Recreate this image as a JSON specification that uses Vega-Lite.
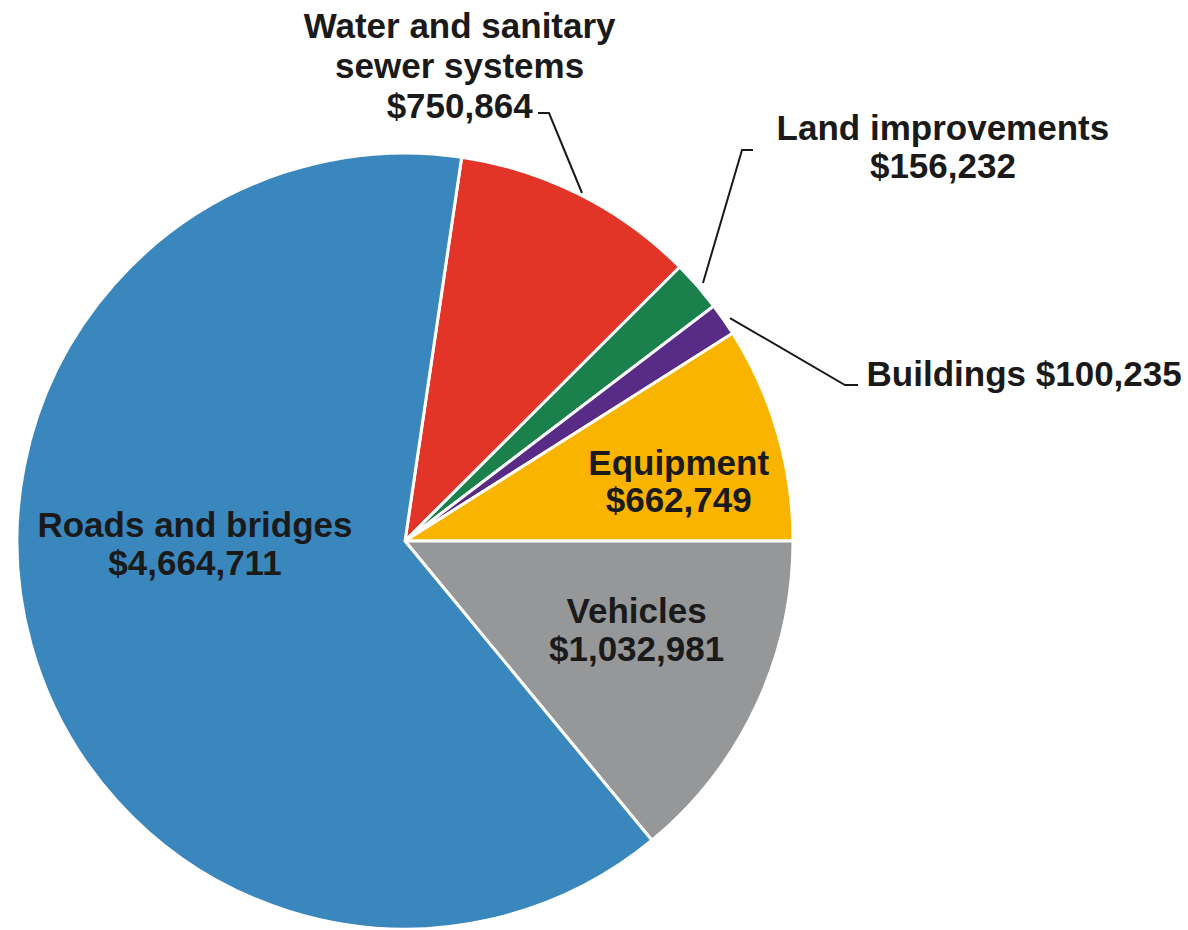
{
  "$schema": "https://vega.github.io/schema/vega-lite/v6.json",
  "width": 776,
  "height": 776,
  "autosize": "none",
  "padding": {"left": 17, "top": 153, "right": 395, "bottom": 1},
  "background": "white",
  "config": {"view": {"stroke": null}, "font": "Liberation Sans"},
  "datasets": {
    "slices": [
      {"category": "Water and sanitary sewer systems", "label": "Water and sanitary|sewer systems|", "value": 750864},
      {"category": "Land improvements", "label": "Land improvements|", "value": 156232},
      {"category": "Buildings", "label": "Buildings ", "value": 100235},
      {"category": "Equipment", "label": "Equipment|", "value": 662749},
      {"category": "Vehicles", "label": "Vehicles|", "value": 1032981},
      {"category": "Roads and bridges", "label": "Roads and bridges|", "value": 4664711}
    ],
    "leaders": [
      {"seg": "Water", "k": 0, "u": 0.3428, "v": 1.1031},
      {"seg": "Water", "k": 1, "u": 0.3711, "v": 1.1031},
      {"seg": "Water", "k": 2, "u": 0.4562, "v": 0.8969},
      {"seg": "Land", "k": 0, "u": 0.8969, "v": 1.0077},
      {"seg": "Land", "k": 1, "u": 0.8686, "v": 1.0077},
      {"seg": "Land", "k": 2, "u": 0.768, "v": 0.665},
      {"seg": "Buildings", "k": 0, "u": 0.8376, "v": 0.5747},
      {"seg": "Buildings", "k": 1, "u": 1.134, "v": 0.402},
      {"seg": "Buildings", "k": 2, "u": 1.1675, "v": 0.402}
    ]
  },
  "layer": [
    {
      "data": {"name": "slices"},
      "transform": [{"window": [{"op": "row_number", "as": "idx"}]}],
      "mark": {"type": "arc", "stroke": "white", "strokeWidth": 3},
      "encoding": {
        "theta": {"field": "value", "type": "quantitative", "stack": true, "scale": {"range": [0.14657, 6.42976]}},
        "order": {"field": "idx", "type": "quantitative"},
        "color": {
          "field": "category", "type": "nominal", "legend": null,
          "scale": {
            "domain": ["Water and sanitary sewer systems", "Land improvements", "Buildings", "Equipment", "Vehicles", "Roads and bridges"],
            "range": ["#e33428", "#1a804c", "#582c86", "#f9b400", "#969799", "#3a87be"]
          }
        }
      }
    },
    {
      "data": {"name": "leaders"},
      "mark": {"type": "line", "color": "#1a1a1a", "strokeWidth": 2},
      "encoding": {
        "x": {"field": "u", "type": "quantitative", "scale": {"domain": [-1, 1], "nice": false, "zero": false}, "axis": null},
        "y": {"field": "v", "type": "quantitative", "scale": {"domain": [-1, 1], "nice": false, "zero": false}, "axis": null},
        "detail": {"field": "seg"},
        "order": {"field": "k", "type": "quantitative"}
      }
    },
    {
      "data": {"name": "slices"},
      "transform": [{"window": [{"op": "row_number", "as": "idx"}]}, {"calculate": "datum.label + '$' + format(datum.value, ',')", "as": "txt"}],
      "mark": {"type": "text", "radius": 218, "dy": -73, "fontSize": 35, "fontWeight": "bold", "color": "#1a1a1a", "lineBreak": "|", "lineHeight": 38, "align": "center", "baseline": "middle"},
      "encoding": {
        "theta": {"field": "value", "type": "quantitative", "stack": true},
        "order": {"field": "idx", "type": "quantitative"},
        "text": {"condition": {"test": "datum.category === 'Roads and bridges'", "field": "txt"}, "value": ""}
      }
    },
    {
      "data": {"name": "slices"},
      "transform": [{"window": [{"op": "row_number", "as": "idx"}]}, {"calculate": "datum.label + '$' + format(datum.value, ',')", "as": "txt"}],
      "mark": {"type": "text", "radius": 285, "dy": 2, "fontSize": 35, "fontWeight": "bold", "color": "#1a1a1a", "lineBreak": "|", "lineHeight": 37, "align": "center", "baseline": "middle"},
      "encoding": {
        "theta": {"field": "value", "type": "quantitative", "stack": true},
        "order": {"field": "idx", "type": "quantitative"},
        "text": {"condition": {"test": "datum.category === 'Equipment'", "field": "txt"}, "value": ""}
      }
    },
    {
      "data": {"name": "slices"},
      "transform": [{"window": [{"op": "row_number", "as": "idx"}]}, {"calculate": "datum.label + '$' + format(datum.value, ',')", "as": "txt"}],
      "mark": {"type": "text", "radius": 256, "dy": -38, "fontSize": 35, "fontWeight": "bold", "color": "#1a1a1a", "lineBreak": "|", "lineHeight": 38, "align": "center", "baseline": "middle"},
      "encoding": {
        "theta": {"field": "value", "type": "quantitative", "stack": true},
        "order": {"field": "idx", "type": "quantitative"},
        "text": {"condition": {"test": "datum.category === 'Vehicles'", "field": "txt"}, "value": ""}
      }
    },
    {
      "data": {"name": "slices"},
      "transform": [{"window": [{"op": "row_number", "as": "idx"}]}, {"calculate": "datum.label + '$' + format(datum.value, ',')", "as": "txt"}],
      "mark": {"type": "text", "radius": 477, "dx": -160, "dy": -88, "fontSize": 35, "fontWeight": "bold", "color": "#1a1a1a", "lineBreak": "|", "lineHeight": 40, "align": "center", "baseline": "middle"},
      "encoding": {
        "theta": {"field": "value", "type": "quantitative", "stack": true},
        "order": {"field": "idx", "type": "quantitative"},
        "text": {"condition": {"test": "datum.category === 'Water and sanitary sewer systems'", "field": "txt"}, "value": ""}
      }
    },
    {
      "data": {"name": "slices"},
      "transform": [{"window": [{"op": "row_number", "as": "idx"}]}, {"calculate": "datum.label + '$' + format(datum.value, ',')", "as": "txt"}],
      "mark": {"type": "text", "radius": 666, "dx": 36, "dy": 26, "fontSize": 35, "fontWeight": "bold", "color": "#1a1a1a", "lineBreak": "|", "lineHeight": 38, "align": "center", "baseline": "middle"},
      "encoding": {
        "theta": {"field": "value", "type": "quantitative", "stack": true},
        "order": {"field": "idx", "type": "quantitative"},
        "text": {"condition": {"test": "datum.category === 'Land improvements'", "field": "txt"}, "value": ""}
      }
    },
    {
      "data": {"name": "slices"},
      "transform": [{"window": [{"op": "row_number", "as": "idx"}]}, {"calculate": "datum.label + '$' + format(datum.value, ',')", "as": "txt"}],
      "mark": {"type": "text", "radius": 641, "dx": 93, "dy": 200, "fontSize": 35, "fontWeight": "bold", "color": "#1a1a1a", "lineBreak": "|", "lineHeight": 38, "align": "center", "baseline": "middle"},
      "encoding": {
        "theta": {"field": "value", "type": "quantitative", "stack": true},
        "order": {"field": "idx", "type": "quantitative"},
        "text": {"condition": {"test": "datum.category === 'Buildings'", "field": "txt"}, "value": ""}
      }
    }
  ]
}
